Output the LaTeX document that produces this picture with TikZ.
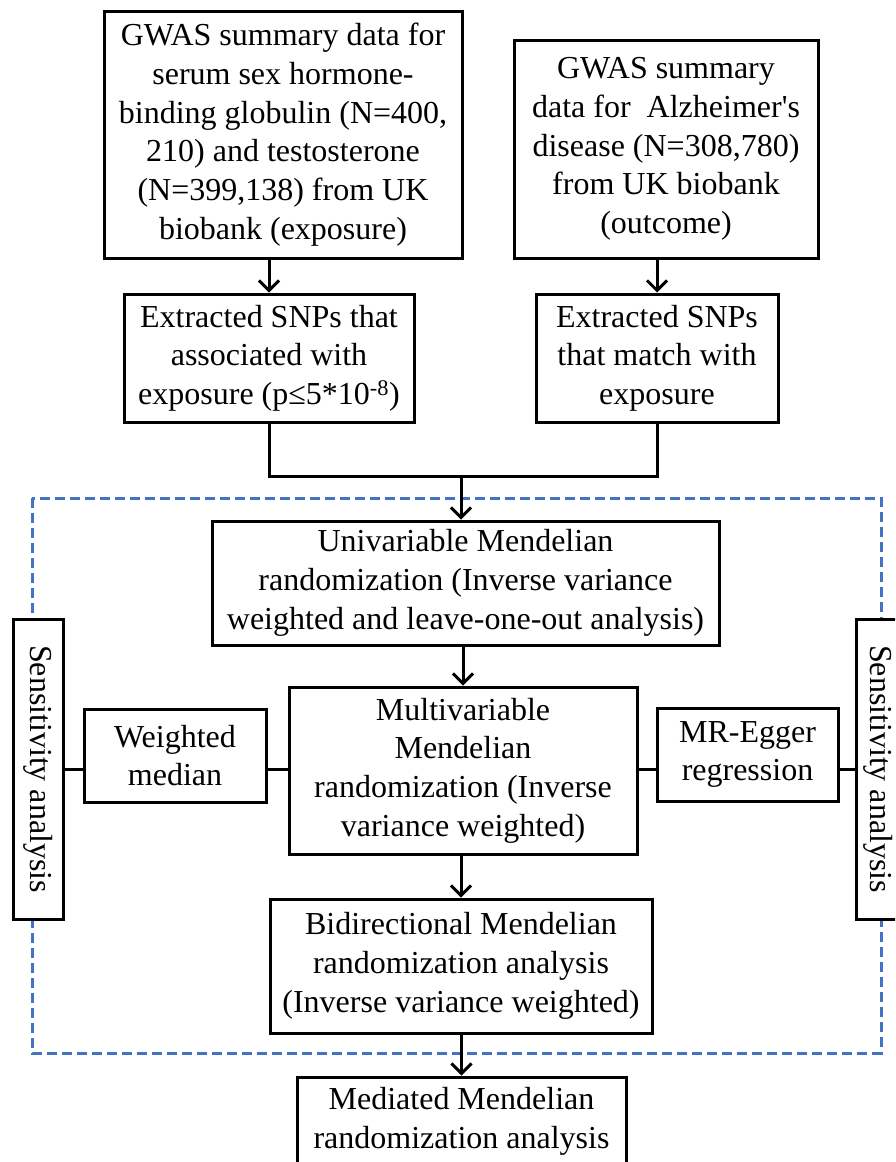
\documentclass[tikz,border=0pt]{standalone}
\usepackage{fontspec}
\usepackage{graphicx}
\setmainfont{Liberation Serif}
\usetikzlibrary{arrows.meta}
\definecolor{dashblue}{HTML}{4472C4}
\tikzset{
  box/.style={draw=black, line width=3pt, fill=white, align=center, inner sep=1pt,
    font=\fontsize{32}{38.7}\selectfont},
  conn/.style={draw=black, line width=3pt},
  arr/.style={conn, -{Straight Barb[length=10pt,width=20pt]}},
  frame/.style={draw=dashblue, line width=3pt, dash pattern=on 10pt off 5pt}
}
\begin{document}
\begin{tikzpicture}[x=1pt,y=-1pt]
\path[use as bounding box] (0,0) rectangle (895,1162);
\clip (0,0) rectangle (895,1162);
% dashed frame
\draw[frame] (32,498) rectangle (881,1053);
% boxes
\node[box, minimum width=358pt, minimum height=247pt] (b1) at (283,134.5)
  {GWAS summary data for\\serum sex hormone-\\binding globulin (N=400,\\210) and testosterone\\(N=399,138) from UK\\biobank (exposure)};
\node[box, minimum width=304pt, minimum height=218pt] (b2) at (666,149)
  {GWAS summary\\data for\ \ Alzheimer\textquotesingle s\\disease (N=308,780)\\from UK biobank\\(outcome)};
\node[box, minimum width=290pt, minimum height=128pt] (b3) at (269,358)
  {Extracted SNPs that\\associated with\\exposure (p≤5*10\textsuperscript{-8})};
\node[box, minimum width=242pt, minimum height=128pt] (b4) at (657,358)
  {Extracted SNPs\\that match with\\exposure};
\node[box, minimum width=507pt, minimum height=124pt] (uni) at (465.5,583)
  {Univariable Mendelian\\randomization (Inverse variance\\weighted and leave-one-out analysis)};
\node[box, minimum width=348pt, minimum height=167pt] (multi) at (463,770.5)
  {Multivariable\\Mendelian\\randomization (Inverse\\variance weighted)};
\node[box, minimum width=182pt, minimum height=93pt] (wm) at (175,755.5)
  {Weighted\\median};
\node[box, minimum width=181pt, minimum height=93pt] (mr) at (747.5,754.5)
  {MR-Egger\\regression};
\node[box, minimum width=50pt, minimum height=300pt] (sensL) at (38,769)
  {\rotatebox{-90}{Sensitivity analysis}};
\node[box, minimum width=50pt, minimum height=300pt] (sensR) at (881,769)
  {\rotatebox{-90}{Sensitivity analysis}\kern6pt};
\node[box, minimum width=382pt, minimum height=134pt] (bidi) at (461,966)
  {Bidirectional Mendelian\\randomization analysis\\(Inverse variance weighted)};
\node[box, minimum width=329pt, minimum height=88pt] (med) at (461.5,1121)
  {Mediated Mendelian\\randomization analysis};
% connectors
\coordinate (j) at (461,476);
\draw[arr] (b3.north |- b1.south) -- (b3.north);
\draw[arr] (b4.north |- b2.south) -- (b4.north);
\draw[conn] (b3.south) |- (j) -| (b4.south);
\draw[arr] (j) -- (j |- uni.north);
\draw[arr] (uni.south -| multi.north) -- (multi.north);
\draw[arr] (multi.south -| bidi.north) -- (bidi.north);
\draw[arr] (bidi.south -| med.north) -- (med.north);
\draw[conn] (sensL.east) -- (sensL.east -| wm.west);
\draw[conn] (wm.east |- sensL.east) -- (sensL.east -| multi.west);
\draw[conn] (multi.east |- sensL.east) -- (sensL.east -| mr.west);
\draw[conn] (mr.east |- sensR.west) -- (sensR.west);
\end{tikzpicture}
\end{document}
